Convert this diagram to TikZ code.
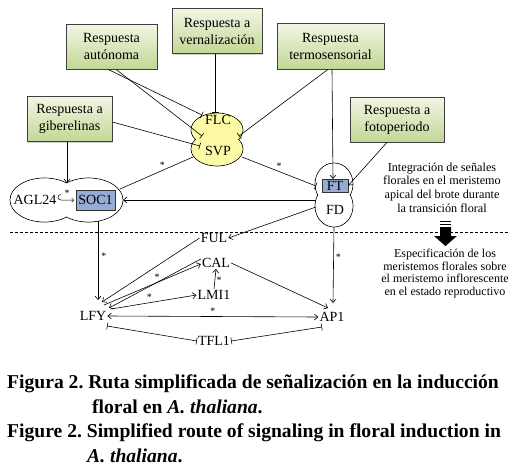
\documentclass[tikz,border=0pt]{standalone}
\usepackage{fontspec}
\setmainfont{Liberation Serif}
\usetikzlibrary{arrows.meta,shadows}
\definecolor{boxtop}{RGB}{242,246,228}
\definecolor{boxbot}{RGB}{194,215,150}
\definecolor{pyellow}{RGB}{252,250,165}
\definecolor{pblue}{RGB}{150,172,212}
\frenchspacing
\begin{document}
\begin{tikzpicture}[x=1pt,y=-1pt,
 gbox/.style={draw=black!75, line width=0.7pt, top color=boxtop, bottom color=boxbot, align=center,
   font=\fontsize{14}{17}\selectfont, inner sep=0pt,
   drop shadow={shadow xshift=1.3pt,shadow yshift=-1.3pt,opacity=0.35}},
 lbl/.style={font=\fontsize{14}{16}\selectfont, inner sep=1pt},
 bbox/.style={draw=black!80, line width=0.6pt, fill=pblue, inner sep=0pt, font=\fontsize{14}{16}\selectfont},
 ast/.style={font=\fontsize{10}{10}\selectfont, inner sep=0pt},
 side/.style={align=center, inner sep=0pt},
 captxt/.style={font=\fontsize{19.6}{24}\selectfont\bfseries, inner sep=0pt, anchor=base west},
 con/.style={line width=0.6pt},
 arr/.style={con, -{Straight Barb[length=3.5pt,width=6pt]}},
 darr/.style={con, {Straight Barb[length=3.5pt,width=6pt]}-{Straight Barb[length=3.5pt,width=6pt]}},
 tee/.style={con, -{Bar[width=7pt]}},
 dtee/.style={con, {Bar[width=7pt]}-{Bar[width=7pt]}},
 pline/.style={line width=0.7pt}
]
\useasboundingbox (0,0) rectangle (515,467);

% ---------- green boxes
\node[gbox, minimum width=91pt, minimum height=45pt] (auto) at (111.5,46.5) {Respuesta\\autónoma};
\node[gbox, minimum width=90pt, minimum height=45pt] (vern) at (217,31) {Respuesta a\\vernalización};
\node[gbox, minimum width=107pt, minimum height=46pt] (termo) at (330.5,46) {Respuesta\\termosensorial};
\node[gbox, minimum width=85pt, minimum height=45pt] (gib) at (69.5,119) {Respuesta a\\giberelinas};
\node[gbox, minimum width=94pt, minimum height=45pt] (foto) at (397,119.5) {Respuesta a\\fotoperiodo};

% ---------- peanut shapes
\draw[pline, fill=pyellow] (217,130) ellipse [x radius=26, y radius=17];
\draw[pline, fill=pyellow] (217,149) ellipse [x radius=26, y radius=17];
\fill[pyellow] (217,130) ellipse [x radius=25.4, y radius=16.4];
\fill[pyellow] (217,149) ellipse [x radius=25.4, y radius=16.4];

\draw[pline, fill=white] (44.5,200) ellipse [x radius=34.5, y radius=22];
\draw[pline, fill=white] (88.5,200) ellipse [x radius=34.5, y radius=22];
\fill[white] (44.5,200) ellipse [x radius=33.9, y radius=21.4];
\fill[white] (88.5,200) ellipse [x radius=33.9, y radius=21.4];

\draw[pline, fill=white] (334,184) ellipse [x radius=19, y radius=21];
\draw[pline, fill=white] (334,206) ellipse [x radius=19, y radius=21];
\fill[white] (334,184) ellipse [x radius=18.4, y radius=20.4];
\fill[white] (334,206) ellipse [x radius=18.4, y radius=20.4];

% ---------- labels
\node[lbl] (flc) at (218,120) {FLC};
\node[lbl] (svp) at (218,151) {SVP};
\node[lbl] (agl) at (35,200) {AGL24};
\node[bbox, minimum width=39pt, minimum height=20pt] (soc) at (95.5,200) {SOC1};
\node[bbox, minimum width=26pt, minimum height=13pt] (ft) at (335,185.5) {FT};
\node[lbl] (fd) at (335,210) {FD};
\node[lbl] (ful) at (214,238) {FUL};
\node[lbl] (cal) at (216,263) {CAL};
\node[lbl] (lmi) at (214,295) {LMI1};
\node[lbl] (lfy) at (93,316) {LFY};
\node[lbl] (ap1) at (332,317) {AP1};
\node[lbl] (tfl) at (214,341) {TFL1};

\node[side, font=\fontsize{12.2}{13.6}\selectfont] (integ) at (442,187.5)
  {Integración de señales\\florales en el meristemo\\apical del brote durante\\la transición floral};
\node[side, font=\fontsize{12}{12.4}\selectfont] (espec) at (445,273.5)
  {Especificación de los\\meristemos florales sobre\\el meristemo inflorescente\\en el estado reproductivo};

% ---------- end point coordinates
\coordinate (flcA) at (202,115);
\coordinate (svpA) at (202,136);
\coordinate (svpG) at (200,146);
\coordinate (flcV) at (215,113);
\coordinate (svpT) at (239,136);
\coordinate (svpL) at (193,157);
\coordinate (svpR) at (242,157);
\coordinate (aglT) at (67,183);
\coordinate (aglR) at (120,189);
\coordinate (aglB) at (98,221);
\coordinate (socR) at (123,200);
\coordinate (ftL) at (316,186);
\coordinate (ftT) at (333,179);
\coordinate (fdL) at (316,200);
\coordinate (fdLL) at (316,207);
\coordinate (fdB) at (334,227);

% ---------- upper connectors
\draw[tee] ([xshift=-3.5pt]auto.south) -- (flcA);
\draw[tee] ([xshift=4.5pt]auto.south) -- (svpA);
\draw[tee] ([yshift=-3pt]gib.east) -- (svpG);
\draw[tee] ([xshift=-2pt]vern.south) -- (flcV);
\draw[tee] ([xshift=-2.5pt]termo.south) -- (svpT);
\draw[arr] ([xshift=1.5pt]termo.south) -- (ftT);
\draw[arr] ([xshift=-10pt]foto.south) -- (ft.east);
\draw[arr] ([xshift=-2.5pt]gib.south) -- (aglT);
\draw[con] (svpL) -- node[ast, pos=0.42, above=2pt] {*} (aglR);
\draw[tee] (svpR) -- node[ast, pos=0.5, above=2pt] {*} (ftL);
\draw[arr] (fdL) -- (socR);
\draw[arr] (fdLL) -- (ful.east);

% AGL24 -> SOC1 hook arrow
\coordinate (hk1) at (61,194.5);
\coordinate (hk2) at (74,200);
\draw[line width=0.5pt, -{Straight Barb[length=2pt,width=4pt]}] (hk1) .. controls (57,194.5) and (57,200) .. (61,200) -- (hk2);
\node[ast] (hkast) at (67,193) {*};

% ---------- dashed separator and block arrow
\coordinate (dl) at (10,232);
\coordinate (dr) at (508,232);
\draw[line width=0.6pt, dash pattern=on 3pt off 2pt] (dl) -- (dr);
\fill (440,221) rectangle (451,222.4);
\fill (440,224) rectangle (451,225.4);
\fill (440,227) -- (451,227) -- (451,236) -- (457,236) -- (445.5,246) -- (434,236) -- (440,236) -- cycle;

% ---------- lower connectors
\coordinate (lfyT) at (98,300);
\coordinate (ap1T) at (333,303);
\coordinate (lfyF) at (102,302);
\coordinate (lfyC) at (104,305);
\coordinate (lfyC2) at (109,308);
\coordinate (lfyL) at (111,309);
\coordinate (ap1C) at (328,308);
\coordinate (lfyB) at (107,326);
\coordinate (ap1B) at (322,327);
\draw[arr] (aglB) -- node[ast, pos=0.45, right=3pt] {*} (lfyT);
\draw[arr] (fdB) -- node[ast, pos=0.4, right=2pt] {*} (ap1T);
\draw[arr] (ful.west) -- (lfyF);
\draw[arr] (lfyC) -- node[ast, pos=0.55, above=2pt] {*} ([yshift=-1pt]cal.west);
\draw[arr] ([yshift=4pt]cal.west) -- (lfyC2);
\draw[arr] (lmi.north) -- node[ast, pos=0.45, right=1.5pt] {*} (cal.south);
\draw[arr] (lfyL) -- node[ast, pos=0.45, above=2pt] {*} (lmi.west);
\draw[darr] (lfy.east) -- node[ast, pos=0.5, above=2pt] {*} (ap1.west);
\draw[arr] (cal.east) -- (ap1C);
\draw[dtee] (lfyB) -- (tfl.west);
\draw[dtee] (tfl.east) -- (ap1B);

% ---------- caption
\node[captxt] (c1) at (7,388) {Figura 2. Ruta simplificada de señalización en la inducción};
\node[captxt] (c2) at (92,413) {floral en \textit{A. thaliana}.};
\node[captxt] (c3) at (7,437) {Figure 2. Simplified route of signaling in floral induction in};
\node[captxt] (c4) at (87,462) {\textit{A. thaliana}.};
\end{tikzpicture}
\end{document}
